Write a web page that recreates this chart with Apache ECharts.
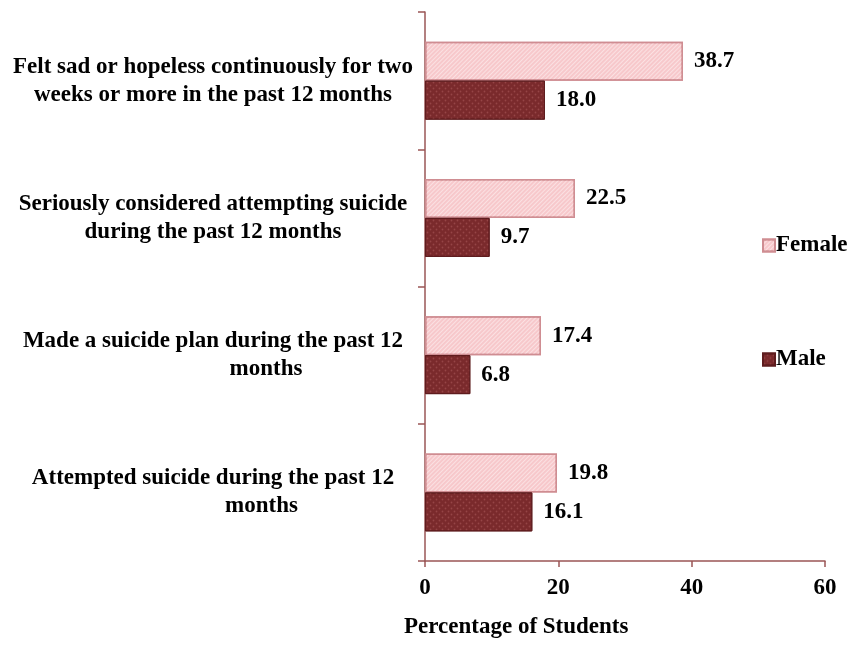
<!DOCTYPE html>
<html>
<head>
<meta charset="utf-8">
<script src="https://cdn.jsdelivr.net/npm/echarts@6/dist/echarts.min.js"></script>
<style>
  html, body { margin: 0; padding: 0; background: #fff; }
  #chart { width: 849px; height: 660px; }
</style>
</head>
<body>
<div id="chart"></div>
<script>
// categories, top to bottom
var categories = [
  "{a|Felt sad or hopeless continuously for two}\n{a|weeks or more in the past 12 months}",
  "{a|Seriously considered attempting suicide}\n{a|during the past 12 months}",
  "{a|Made a suicide plan during the past 12}\n{m1|months}",
  "{a|Attempted suicide during the past 12}\n{m2|months}"
];
var female = [38.7, 22.5, 17.4, 19.8];
var male = [18.0, 9.7, 6.8, 16.1];
var xTicks = [0, 20, 40, 60];

var font = "'Liberation Serif', 'Times New Roman', serif";
var axisColor = "#9a5656";
var fs = 23;

var chart = echarts.init(document.getElementById("chart"));

function valueLabel() {
  return {
    show: true,
    position: "right",
    distance: 11,
    formatter: function (p) { return p.value.toFixed(1); },
    fontFamily: font, fontWeight: "bold", fontSize: fs, color: "#000"
  };
}

chart.setOption({
  animation: false,
  aria: { enabled: true, decal: { show: true } },
  grid: { left: 425, right: 24, top: 12, bottom: 99, containLabel: false },
  title: {
    text: "Percentage of Students",
    left: 399,
    top: 611,
    textStyle: { fontFamily: font, fontWeight: "bold", fontSize: fs, color: "#000" }
  },
  legend: {
    orient: "vertical",
    left: 757,
    top: 229,
    itemWidth: 12,
    itemHeight: 12,
    itemGap: 91,
    icon: "rect",
    textStyle: { fontFamily: font, fontWeight: "bold", fontSize: fs, color: "#000", padding: [0, 0, 0, -4] },
    data: ["Female", "Male"]
  },
  xAxis: {
    type: "value",
    min: xTicks[0],
    max: xTicks[xTicks.length - 1],
    interval: 20,
    splitLine: { show: false },
    axisLine: { show: true, lineStyle: { color: axisColor, width: 1.5 } },
    axisTick: { show: true, length: 6, lineStyle: { color: axisColor, width: 1.5 } },
    axisLabel: { margin: 16, fontFamily: font, fontWeight: "bold", fontSize: fs, color: "#000" }
  },
  yAxis: {
    type: "category",
    inverse: true,
    data: categories,
    axisLine: { show: true, lineStyle: { color: axisColor, width: 1.5 } },
    axisTick: { show: true, length: 7, lineStyle: { color: axisColor, width: 1.5 } },
    axisLabel: {
      margin: 212,
      align: "center",
      lineHeight: 28,
      color: "#000",
      rich: {
        a: { fontFamily: font, fontWeight: "bold", fontSize: fs, lineHeight: 28, color: "#000" },
        m1: { fontFamily: font, fontWeight: "bold", fontSize: fs, lineHeight: 28, color: "#000", padding: [0, 0, 0, 106] },
        m2: { fontFamily: font, fontWeight: "bold", fontSize: fs, lineHeight: 28, color: "#000", padding: [0, 0, 0, 97] }
      }
    }
  },
  series: [
    {
      name: "Female",
      type: "bar",
      data: female,
      barWidth: 39,
      barGap: "0%",
      itemStyle: {
        color: "#f7c8cb",
        borderColor: "#cf8d92",
        borderWidth: 1.5,
        decal: {
          symbol: "rect",
          symbolSize: 1,
          dashArrayX: [1, 0],
          dashArrayY: [1, 2],
          rotation: -Math.PI / 4,
          color: "rgba(255,255,255,0.45)"
        }
      },
      label: valueLabel()
    },
    {
      name: "Male",
      type: "bar",
      data: male,
      barWidth: 39,
      barGap: "0%",
      itemStyle: {
        color: "#7a2a2c",
        borderColor: "#5e1c1e",
        borderWidth: 1,
        decal: {
          symbol: "circle",
          symbolSize: 0.6,
          dashArrayX: [[3, 3], [0, 3, 3, 0]],
          dashArrayY: [3, 0],
          color: "rgba(200,120,120,0.35)"
        }
      },
      label: valueLabel()
    }
  ]
});
</script>
</body>
</html>
